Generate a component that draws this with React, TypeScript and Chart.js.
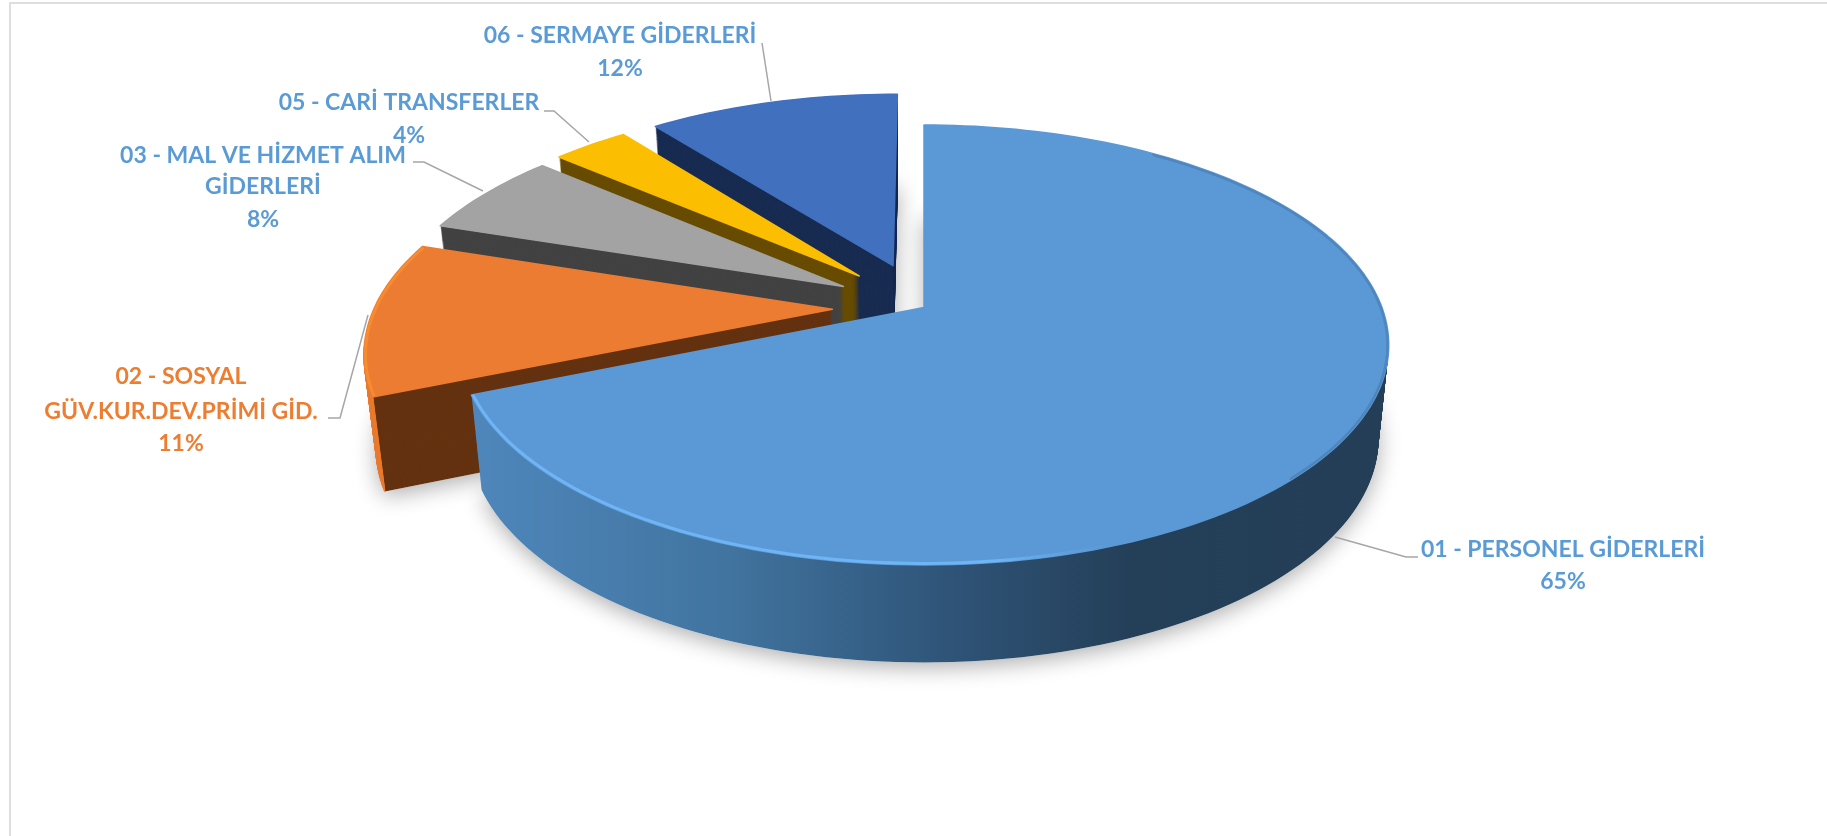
import React, { useEffect, useRef } from "react";
import { Chart, registerables } from "chart.js";

Chart.register(...registerables);

// ---- data, as printed on the chart's labels ----
const categories = [
  "01 - PERSONEL GİDERLERİ",
  "02 - SOSYAL GÜV.KUR.DEV.PRİMİ GİD.",
  "03 - MAL VE HİZMET ALIM GİDERLERİ",
  "05 - CARİ TRANSFERLER",
  "06 - SERMAYE GİDERLERİ",
];
const shares = [65, 11, 8, 4, 12];
const explodeFractions = [0, 0.2, 0.205, 0.21, 0.215];

// ---- styles ----
const topColors = ["#5b99d6", "#ec7c31", "#a3a3a3", "#fbbe00", "#4170bf"];
const wallColors = ["#2f5478", "#643210", "#424242", "#674c00", "#182b51"];
const rimColors = ["#6fb5f6", "#f88a30", "#a3a3a3", "#fbbe00", "#4170bf"];
const labelColors = ["#5b9bd5", "#ed7d31", "#5b9bd5", "#5b9bd5", "#5b9bd5"];

// ---- label layout: wrapped lines, line centres, and leader polylines ----
const labelLines = [
  ["01 - PERSONEL GİDERLERİ", "65%"],
  ["02 - SOSYAL", "GÜV.KUR.DEV.PRİMİ GİD.", "11%"],
  ["03 - MAL VE HİZMET ALIM", "GİDERLERİ", "8%"],
  ["05 - CARİ TRANSFERLER", "4%"],
  ["06 - SERMAYE GİDERLERİ", "12%"],
];
const labelCentreX = [1563, 181, 263, 409, 620];
const labelLineY = [
  [550, 582],
  [377, 412, 444],
  [156, 187, 220],
  [103, 136],
  [36, 69],
];
const leaders = [
  [[1335, 537], [1406, 557], [1418, 557]],
  [[368, 315], [340, 418], [328, 418]],
  [[413, 162], [424, 162], [483, 191]],
  [[544, 111], [554, 111], [589, 142]],
  [[762, 43], [771, 101]],
];

// ---- view: how the flat pie is tilted into perspective ----
const CX = 924;
const CY = 307.6;
const RX = 458;
const RY = 213.6;
const PERSPECTIVE = 0.17;
const DEPTH = 93;
const DEPTH_PERSPECTIVE = 0.25;
const TAPER = 0.022;
const OFFSET_UNIT = 380;
// The source's 3D renderer draws the sweeps unevenly; maps a true angle to the drawn one.
const sweepTrue = [0, 234, 273.6, 302.4, 316.8, 360];
const sweepDrawn = [0, 247.5, 288, 310.5, 322, 360];

const warp = (deg: number) => {
  for (let i = 1; i < sweepTrue.length; i++) {
    if (deg <= sweepTrue[i] + 1e-6) {
      const t = (deg - sweepTrue[i - 1]) / (sweepTrue[i] - sweepTrue[i - 1]);
      return sweepDrawn[i - 1] + t * (sweepDrawn[i] - sweepDrawn[i - 1]);
    }
  }
  return deg;
};

const project = (u: number, v: number, d = 0): [number, number] => {
  const s = 1 / (1 - PERSPECTIVE * v);
  const x = CX + RX * u * s;
  const y = CY + RY * v * s;
  return [CX + (x - CX) * (1 - (TAPER * d) / DEPTH), y + d * Math.pow(s, DEPTH_PERSPECTIVE)];
};

const arcPoints = (ox: number, oy: number, a0: number, a1: number, d: number) => {
  const n = Math.max(4, Math.ceil((a1 - a0) / 1.5));
  const pts: [number, number][] = [];
  for (let i = 0; i <= n; i++) {
    const a = ((a0 + ((a1 - a0) * i) / n) * Math.PI) / 180;
    pts.push(project(ox + Math.sin(a), oy - Math.cos(a), d));
  }
  return pts;
};

const tracePoly = (ctx: CanvasRenderingContext2D, pts: [number, number][]) => {
  ctx.beginPath();
  pts.forEach((p, i) => (i ? ctx.lineTo(p[0], p[1]) : ctx.moveTo(p[0], p[1])));
  ctx.closePath();
};

const traceLine = (ctx: CanvasRenderingContext2D, pts: [number, number][]) => {
  ctx.beginPath();
  pts.forEach((p, i) => (i ? ctx.lineTo(p[0], p[1]) : ctx.moveTo(p[0], p[1])));
};

const tiltedPie = {
  id: "tiltedPie",
  beforeDatasetsDraw(chart: any) {
    const ctx: CanvasRenderingContext2D = chart.ctx;
    const arcs = chart.getDatasetMeta(0).data;
    const slices = arcs.map((arc: any, i: number) => {
      const a0 = warp(((arc.startAngle + Math.PI / 2) * 180) / Math.PI);
      const a1 = warp(((arc.endAngle + Math.PI / 2) * 180) / Math.PI);
      const mid = ((a0 + a1) / 2) * (Math.PI / 180);
      const off = (arc.options.offset || 0) / OFFSET_UNIT;
      return { i, a0, a1, ox: off * Math.sin(mid), oy: -off * Math.cos(mid) };
    });
    const shape = (s: any, d: number) => [
      project(s.ox, s.oy, d),
      ...arcPoints(s.ox, s.oy, s.a0, s.a1, d),
    ];

    ctx.save();
    // soft shadow under every slice
    slices.forEach((s: any) => {
      ctx.save();
      ctx.shadowColor = "rgba(0,0,0,0.32)";
      ctx.shadowBlur = 22;
      ctx.shadowOffsetY = 5;
      ctx.fillStyle = "#ffffff";
      tracePoly(ctx, shape(s, DEPTH));
      ctx.fill();
      ctx.restore();
    });

    const blueWall = ctx.createLinearGradient(470, 0, 1390, 0);
    blueWall.addColorStop(0, "#4f87bc");
    blueWall.addColorStop(0.28, "#41749f");
    blueWall.addColorStop(0.52, "#2f5478");
    blueWall.addColorStop(0.72, "#243f58");
    blueWall.addColorStop(1, "#233e56");

    // back to front: the last slice is the furthest away
    for (let k = slices.length - 1; k >= 0; k--) {
      const s = slices[k];
      ctx.fillStyle = s.i === 0 ? blueWall : wallColors[s.i];
      for (let d = DEPTH; d >= 1; d -= 1) {
        tracePoly(ctx, shape(s, d));
        ctx.fill();
      }
      // the viewer-facing part of the orange slice's curved wall catches the light
      if (s.i === 1) {
        const facingEnd = 360 - (Math.acos(s.oy - PERSPECTIVE) * 180) / Math.PI;
        ctx.strokeStyle = "#e97a2e";
        ctx.lineWidth = 1.5;
        for (let d = DEPTH; d >= 1; d -= 1) {
          traceLine(ctx, arcPoints(s.ox, s.oy, s.a0, facingEnd, d));
          ctx.stroke();
        }
      }
      // top face, with slightly rounded corners
      const face = shape(s, 0);
      ctx.fillStyle = topColors[s.i];
      ctx.strokeStyle = topColors[s.i];
      ctx.lineWidth = 1.5;
      ctx.lineJoin = "round";
      tracePoly(ctx, face);
      ctx.fill();
      ctx.stroke();
      // bevel along the outer rim: lit at the front, soft and dark at the right
      ctx.save();
      tracePoly(ctx, face);
      ctx.clip();
      if (s.i === 0) {
        ctx.lineCap = "round";
        const g = ctx.createLinearGradient(470, 0, 1130, 0);
        g.addColorStop(0, rimColors[0]);
        g.addColorStop(0.8, rimColors[0]);
        g.addColorStop(1, "rgba(91,153,214,0)");
        ctx.strokeStyle = g;
        ctx.lineWidth = 6;
        traceLine(ctx, arcPoints(s.ox, s.oy, 130, s.a1, 0));
        ctx.stroke();
        ctx.strokeStyle = "rgba(45,85,125,0.28)";
        ctx.lineWidth = 5;
        traceLine(ctx, arcPoints(s.ox, s.oy, 35, 135, 0));
        ctx.stroke();
      } else {
        ctx.strokeStyle = rimColors[s.i];
        ctx.lineWidth = 6;
        traceLine(ctx, arcPoints(s.ox, s.oy, s.a0, s.a1, 0));
        ctx.stroke();
      }
      ctx.restore();
    }
    ctx.restore();
    return false;
  },
  afterDraw(chart: any) {
    const ctx: CanvasRenderingContext2D = chart.ctx;
    ctx.save();
    ctx.strokeStyle = "#a6a6a6";
    ctx.lineWidth = 1.5;
    leaders.forEach((line) => {
      ctx.beginPath();
      line.forEach((p, i) => (i ? ctx.lineTo(p[0], p[1]) : ctx.moveTo(p[0], p[1])));
      ctx.stroke();
    });
    ctx.font = '700 23px Lato, "Open Sans", sans-serif';
    ctx.textAlign = "center";
    ctx.textBaseline = "middle";
    labelLines.forEach((lines, i) => {
      ctx.fillStyle = labelColors[i];
      lines.forEach((text, j) => ctx.fillText(text, labelCentreX[i], labelLineY[i][j]));
    });
    ctx.restore();
  },
};

export default function App() {
  const ref = useRef<HTMLCanvasElement | null>(null);
  useEffect(() => {
    const chart = new Chart(ref.current as HTMLCanvasElement, {
      type: "pie",
      data: {
        labels: categories,
        datasets: [
          {
            data: shares,
            backgroundColor: topColors,
            borderWidth: 0,
            offset: explodeFractions.map((f) => f * OFFSET_UNIT),
          },
        ],
      },
      options: {
        responsive: false,
        animation: false,
        plugins: { legend: { display: false }, tooltip: { enabled: false } },
      },
      plugins: [tiltedPie],
    } as any);
    return () => chart.destroy();
  }, []);
  return (
    <div style={{ position: "fixed", inset: 0, overflow: "hidden", background: "#fff" }}>
      <canvas ref={ref} width={1827} height={836} style={{ position: "absolute", left: 0, top: 0 }} />
      <div
        style={{
          position: "absolute",
          left: 9,
          top: 2,
          right: 0,
          bottom: 0,
          borderLeft: "2px solid #dedede",
          borderTop: "2px solid #dedede",
          pointerEvents: "none",
        }}
      />
    </div>
  );
}
